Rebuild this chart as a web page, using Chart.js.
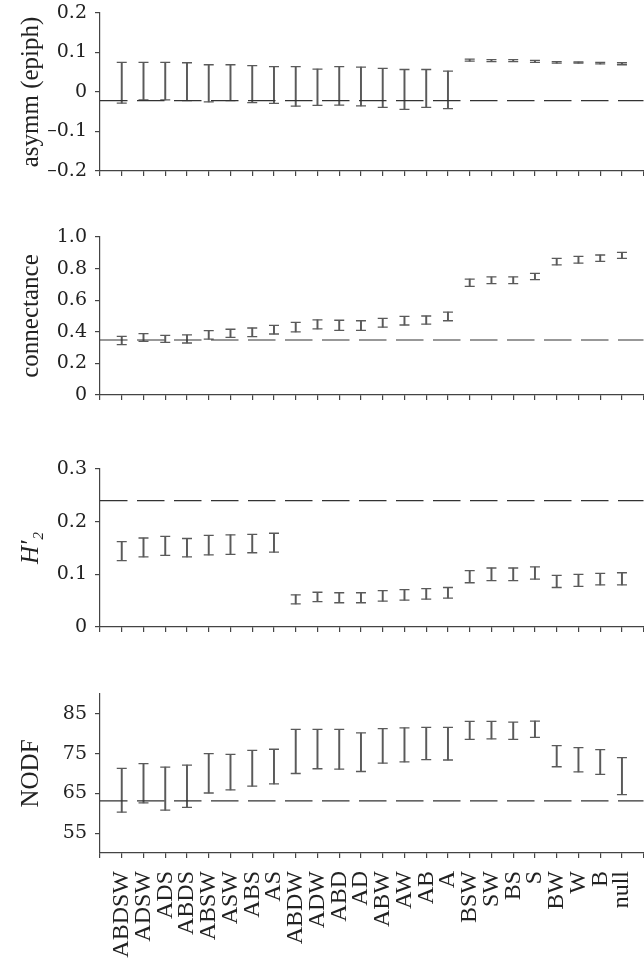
<!DOCTYPE html>
<html>
<head>
<meta charset="utf-8">
<script src="https://cdn.jsdelivr.net/npm/chart.js@4.4.0/dist/chart.umd.min.js"></script>
<style>
  body { margin: 0; background: #fff; width: 644px; height: 958px; position: relative; overflow: hidden; }
  /* a bit wider than the page so the x axis runs to the right edge, as in the figure */
  .panel { position: absolute; left: 0; width: 650px; }
</style>
</head>
<body>
<div class="panel" style="top:-1px;height:184px"><canvas id="asymmChart"></canvas></div>
<div class="panel" style="top:223px;height:184px"><canvas id="connChart"></canvas></div>
<div class="panel" style="top:455px;height:184px"><canvas id="h2Chart"></canvas></div>
<div class="panel" style="top:680px;height:278px"><canvas id="nodfChart"></canvas></div>
<script>
const treatments = ['ABDSW', 'ADSW', 'ADS', 'ABDS', 'ABSW', 'ASW', 'ABS', 'AS', 'ABDW', 'ADW', 'ABD', 'AD',
    'ABW', 'AW', 'AB', 'A', 'BSW', 'SW', 'BS', 'S', 'BW', 'W', 'B', 'null'];

// asymmetry (epiphytes)
const asymmLow  = [-0.028, -0.020, -0.020, -0.022, -0.025, -0.022, -0.027, -0.029, -0.036, -0.034, -0.033, -0.035,
    -0.039, -0.044, -0.039, -0.042, 0.078, 0.077, 0.077, 0.075, 0.073, 0.073, 0.071, 0.069];
const asymmHigh = [0.075, 0.075, 0.075, 0.074, 0.069, 0.069, 0.067, 0.064, 0.064, 0.058, 0.064, 0.063,
    0.060, 0.057, 0.057, 0.053, 0.083, 0.082, 0.082, 0.080, 0.077, 0.076, 0.075, 0.074];
const asymmNull = -0.022;
const asymmTicks = [-0.2, -0.1, 0, 0.1, 0.2];

// connectance
const connLow  = [0.319, 0.340, 0.333, 0.329, 0.354, 0.365, 0.369, 0.386, 0.399, 0.418, 0.409, 0.409,
    0.430, 0.443, 0.449, 0.470, 0.688, 0.705, 0.705, 0.730, 0.823, 0.835, 0.846, 0.865];
const connHigh = [0.371, 0.388, 0.378, 0.380, 0.407, 0.416, 0.424, 0.441, 0.460, 0.475, 0.473, 0.470,
    0.485, 0.498, 0.500, 0.525, 0.734, 0.747, 0.747, 0.770, 0.865, 0.878, 0.886, 0.903];
const connNull = 0.348;
const connTicks = [0, 0.2, 0.4, 0.6, 0.8, 1.0];

// H2'
const h2Low  = [0.126, 0.133, 0.136, 0.133, 0.137, 0.138, 0.141, 0.142, 0.044, 0.048, 0.046, 0.046,
    0.049, 0.051, 0.053, 0.055, 0.084, 0.088, 0.088, 0.091, 0.075, 0.077, 0.080, 0.080];
const h2High = [0.162, 0.169, 0.172, 0.168, 0.174, 0.175, 0.176, 0.178, 0.061, 0.066, 0.065, 0.065,
    0.069, 0.071, 0.073, 0.075, 0.107, 0.112, 0.112, 0.114, 0.098, 0.100, 0.102, 0.103];
const h2Null = 0.240;
const h2Ticks = [0, 0.1, 0.2, 0.3];

// NODF
const nodfLow  = [60.3, 62.6, 60.8, 61.5, 65.1, 65.9, 66.8, 67.4, 70.0, 71.2, 71.1, 70.5,
    72.6, 72.9, 73.5, 73.4, 78.6, 78.7, 78.6, 79.1, 71.7, 70.4, 69.8, 64.7];
const nodfHigh = [71.3, 72.5, 71.6, 72.1, 75.0, 74.8, 75.8, 76.1, 81.1, 81.1, 81.1, 80.2,
    81.3, 81.5, 81.6, 81.6, 83.1, 83.1, 82.9, 83.2, 77.0, 76.5, 76.0, 74.0];
const nodfNull = 63.1;
const nodfTicks = [55, 65, 75, 85];

const xMin = 0;
const xMax = treatments.length + 1;

const inkColor = '#444';
const barColor = '#5a5a5a';

function fmtAsymm(v) {
    if (Math.abs(v) < 1e-9) return '0';
    return (v < 0 ? '\u2013' : '') + Math.abs(v).toFixed(1);
}
function fmtDecimal(v) {
    return Math.abs(v) < 1e-9 ? '0' : v.toFixed(1);
}
function fmtInt(v) {
    return String(Math.round(v));
}

function makePanel(id, cfg) {
    const ctx = document.getElementById(id).getContext('2d');
    const xTickValues = [xMin].concat(treatments.map((t, i) => i + 1), [xMax]);

    new Chart(ctx, {
        type: 'bar',
        data: {
            datasets: [
                {
                    // error bar stems
                    type: 'bar',
                    data: treatments.map((t, i) => ({ x: i + 1, y: [cfg.low[i], cfg.high[i]] })),
                    backgroundColor: barColor,
                    borderWidth: 0,
                    barThickness: 1.3,
                    order: 2
                },
                {
                    // error bar caps
                    type: 'line',
                    data: treatments.map((t, i) => ({ x: i + 1, y: cfg.low[i] }))
                        .concat(treatments.map((t, i) => ({ x: i + 1, y: cfg.high[i] }))),
                    showLine: false,
                    pointStyle: 'line',
                    pointRadius: 5,
                    pointHoverRadius: 5,
                    pointBorderColor: barColor,
                    pointBorderWidth: 1.3,
                    order: 1
                },
                {
                    // null model reference
                    type: 'line',
                    data: [{ x: xMin, y: cfg.nullVal }, { x: xMax, y: cfg.nullVal }],
                    borderColor: '#333',
                    borderWidth: 1.2,
                    borderDash: [27.5, 9.5],
                    pointRadius: 0,
                    fill: false,
                    order: 0
                }
            ]
        },
        options: {
            responsive: true,
            maintainAspectRatio: false,
            animation: false,
            events: [],
            layout: { padding: { top: 14, right: 0, bottom: 0, left: 0 } },
            plugins: {
                legend: { display: false },
                tooltip: { enabled: false }
            },
            scales: {
                x: {
                    type: 'linear',
                    min: xMin,
                    max: xMax,
                    offset: false,
                    afterBuildTicks: s => { s.ticks = xTickValues.map(v => ({ value: v })); },
                    afterFit: s => {
                        s.height = cfg.xHeight;
                        s.paddingLeft = 0;
                        s.paddingRight = 0;
                    },
                    grid: { drawOnChartArea: false, tickLength: 5, color: inkColor, lineWidth: 1.2, offset: false },
                    border: { color: inkColor, width: 1.2 },
                    ticks: {
                        display: cfg.showLabels,
                        autoSkip: false,
                        maxRotation: 90,
                        minRotation: 90,
                        padding: 13,
                        color: '#222',
                        font: { family: 'Liberation Serif', size: 24 },
                        callback: v => treatments[v - 1] || ''
                    }
                },
                y: {
                    min: cfg.min,
                    max: cfg.max,
                    afterBuildTicks: s => { s.ticks = cfg.ticks.map(v => ({ value: v })); },
                    afterFit: s => {
                        s.width = 100;
                        s.paddingTop = 0;
                        s.paddingBottom = 0;
                    },
                    grid: { drawOnChartArea: false, tickLength: 5, color: inkColor, lineWidth: 1.2 },
                    border: { color: inkColor, width: 1.2 },
                    ticks: {
                        padding: 8,
                        color: '#222',
                        font: { family: 'DejaVu Serif', size: 19 },
                        callback: cfg.fmt
                    },
                    title: {
                        display: true,
                        text: cfg.title,
                        color: '#222',
                        padding: { top: 16, bottom: 0 },
                        font: { family: 'Liberation Serif', size: 25, style: cfg.titleStyle || 'normal' }
                    }
                }
            }
        }
    });
}

makePanel('asymmChart', {
    low: asymmLow, high: asymmHigh, nullVal: asymmNull,
    min: -0.2, max: 0.2, ticks: asymmTicks, fmt: fmtAsymm,
    title: 'asymm (epiph)', showLabels: false, xHeight: 12
});

makePanel('connChart', {
    low: connLow, high: connHigh, nullVal: connNull,
    min: 0, max: 1.0, ticks: connTicks, fmt: fmtDecimal,
    title: 'connectance', showLabels: false, xHeight: 12
});

makePanel('h2Chart', {
    low: h2Low, high: h2High, nullVal: h2Null,
    min: 0, max: 0.3, ticks: h2Ticks, fmt: fmtDecimal,
    title: 'H\u2032\u2082', titleStyle: 'italic', showLabels: false, xHeight: 12
});

makePanel('nodfChart', {
    low: nodfLow, high: nodfHigh, nullVal: nodfNull,
    min: 50, max: 90, ticks: nodfTicks, fmt: fmtInt,
    title: 'NODF', showLabels: true, xHeight: 105
});
</script>
</body>
</html>
